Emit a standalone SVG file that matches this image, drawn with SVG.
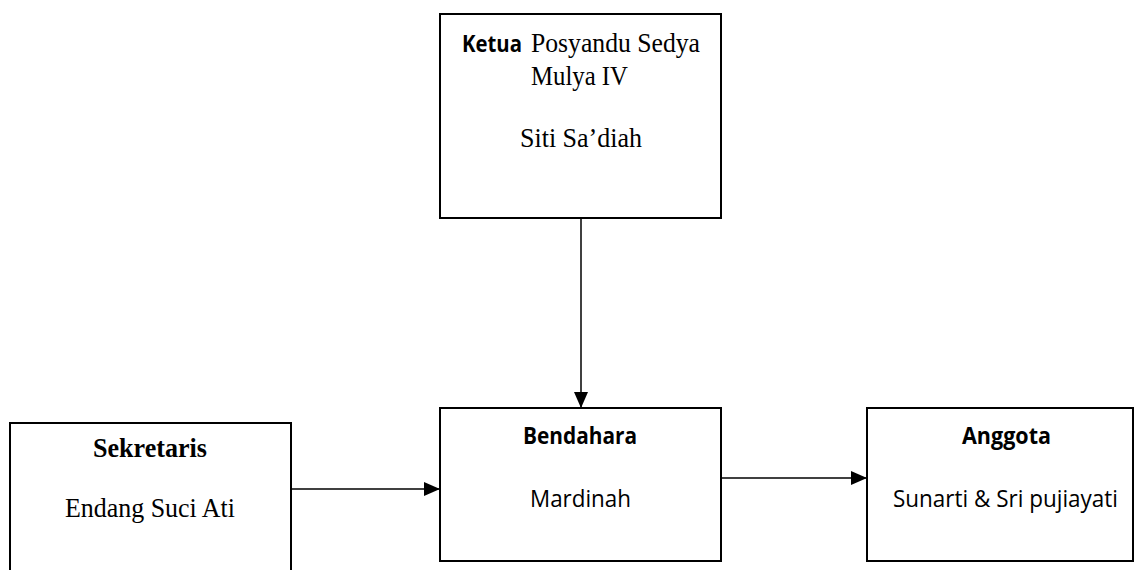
<svg xmlns="http://www.w3.org/2000/svg" width="1136" height="570" viewBox="0 0 1136 570">
<style>
.box{fill:#fff;stroke:#000;stroke-width:2}
.con{stroke:#000;stroke-width:1.5;fill:none}
.serif{font-family:"Liberation Serif","Times New Roman",serif;font-size:27px;fill:#000}
.sans{font-family:"Open Sans","Liberation Sans",sans-serif;font-size:23px;fill:#000}
.b{font-weight:bold}
</style>
<defs>
<marker id="ah" viewBox="0 0 16 14" refX="16" refY="7" markerWidth="16" markerHeight="14" markerUnits="userSpaceOnUse" orient="auto">
<path d="M0,0 L16,7 L0,14 Z" fill="#000"/>
</marker>
</defs>
<g id="connectors">
<line class="con" x1="581" y1="218" x2="581" y2="408" marker-end="url(#ah)"/>
<line class="con" x1="291" y1="489" x2="440" y2="489" marker-end="url(#ah)"/>
<line class="con" x1="717" y1="478" x2="867" y2="478" marker-end="url(#ah)"/>
</g>
<g id="ketua">
<rect class="box" x="440" y="14" width="281" height="204"/>
<text y="52"><tspan class="sans b" x="462" textLength="60" lengthAdjust="spacingAndGlyphs">Ketua</tspan><tspan class="serif" x="531" textLength="169" lengthAdjust="spacingAndGlyphs">Posyandu Sedya</tspan></text>
<text class="serif" x="531" y="85" textLength="97" lengthAdjust="spacingAndGlyphs">Mulya IV</text>
<text class="serif" x="520" y="147" textLength="122" lengthAdjust="spacingAndGlyphs">Siti Sa’diah</text>
</g>
<g id="sekretaris">
<rect class="box" x="10" y="423" width="281" height="160"/>
<text class="serif b" x="93" y="457" textLength="114" lengthAdjust="spacingAndGlyphs">Sekretaris</text>
<text class="serif" x="65" y="517" textLength="170" lengthAdjust="spacingAndGlyphs">Endang Suci Ati</text>
</g>
<g id="bendahara">
<rect class="box" x="440" y="408" width="281" height="153"/>
<text class="sans b" x="523" y="444" textLength="114" lengthAdjust="spacingAndGlyphs">Bendahara</text>
<text class="sans" x="530" y="507" textLength="101" lengthAdjust="spacingAndGlyphs">Mardinah</text>
</g>
<g id="anggota">
<rect class="box" x="867" y="408" width="266" height="153"/>
<text class="sans b" x="962" y="444" textLength="89" lengthAdjust="spacingAndGlyphs">Anggota</text>
<text class="sans" x="893" y="507" textLength="225" lengthAdjust="spacingAndGlyphs">Sunarti &amp; Sri pujiayati</text>
</g>
</svg>
